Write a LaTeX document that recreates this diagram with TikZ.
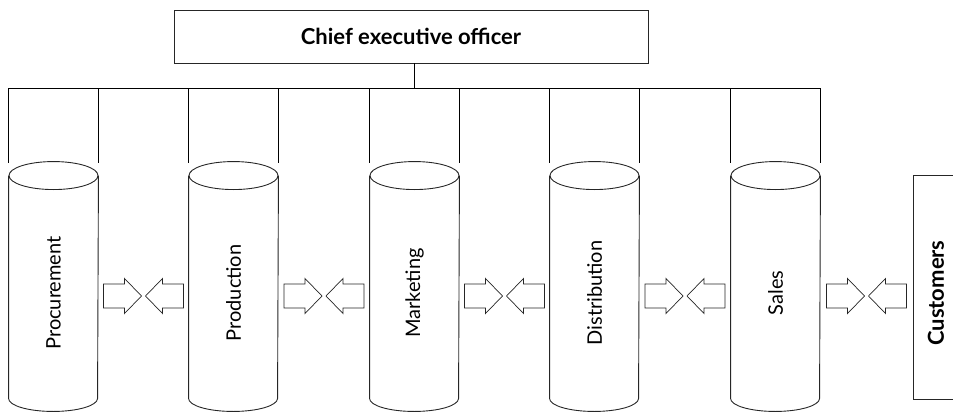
\documentclass[tikz,border=0pt]{standalone}
\usepackage{fontspec}
\setmainfont{Lato}
\usetikzlibrary{calc}

\begin{document}
\begin{tikzpicture}[
        x=1pt, y=-1pt,
        line width=0.9pt,
        ceobox/.style={
            draw=black!85,
            minimum width=474pt,
            minimum height=53pt,
            font=\bfseries\fontsize{22}{24}\selectfont
        },
        column/.style={
            inner sep=0pt,
            minimum width=89pt,
            minimum height=222pt,
            font=\fontsize{20}{24}\selectfont
        },
        endbox/.style={
            draw=black!85,
            rotate=90,
            minimum width=224pt,
            minimum height=46pt,
            font=\bfseries\fontsize{22}{24}\selectfont
        },
        fatarrow/.pic={
            \draw[line width=0.7pt, black!85]
                (-19, -12) -- (2, -12) -- (2, -17.5) -- (19, 0)
                -- (2, 17.5) -- (2, 12) -- (-19, 12) -- cycle;
        }
    ]

        \useasboundingbox (0, 0) rectangle (953, 412);

        \node[ceobox] (ceo) at (411, 36.5) {Chief executive officer};

        % text sits a little below the middle of each cylinder
        \node[column] (proc)  at (53.5, 287)  {\rotatebox{90}{Procurement\hspace*{12pt}}};
        \node[column] (prod)  at (233.5, 287) {\rotatebox{90}{Production\hspace*{12pt}}};
        \node[column] (mkt)   at (414.5, 287) {\rotatebox{90}{Marketing\hspace*{12pt}}};
        \node[column] (dist)  at (594.5, 287) {\rotatebox{90}{Distribution\hspace*{12pt}}};
        \node[column] (sales) at (775.5, 287) {\rotatebox{90}{Sales\hspace*{12pt}}};

        \node[endbox] (cust) at (936, 287) {Customers\hspace*{12pt}};

        % cylinders
        \foreach \c in {proc, prod, mkt, dist, sales} {
            \draw[black!85] (\c.north west) -- (\c.south west)
                arc[start angle=180, end angle=0, x radius=44.5, y radius=13]
                -- (\c.north east);
            \draw[black!85] (\c.north) ellipse [x radius=44.5, y radius=14];
        }

        % reporting lines
        \coordinate (bus) at (0, 88);
        \draw (ceo.south -| mkt.north) -- (mkt.north |- bus);
        \draw (proc.north west |- bus) -- (sales.north east |- bus);
        \foreach \c in {proc, prod, mkt, dist, sales} {
            \draw (\c.north west |- bus) -- ++(0, 75);
            \draw (\c.north east |- bus) -- ++(0, 75);
        }

        % exchange between neighbours
        \foreach \a/\b in {proc/prod, prod/mkt, mkt/dist, dist/sales} {
            \pic (\a-r) at ($(\a.east)!0.5!(\b.west) + (-21, 9)$) {fatarrow};
            \pic[xscale=-1] (\a-l) at ($(\a.east)!0.5!(\b.west) + (21, 9)$) {fatarrow};
        }
        \pic (sales-r) at ($(sales.east)!0.5!(cust.north) + (-21, 9)$) {fatarrow};
        \pic[xscale=-1] (sales-l) at ($(sales.east)!0.5!(cust.north) + (21, 9)$) {fatarrow};

    \end{tikzpicture}
\end{document}
